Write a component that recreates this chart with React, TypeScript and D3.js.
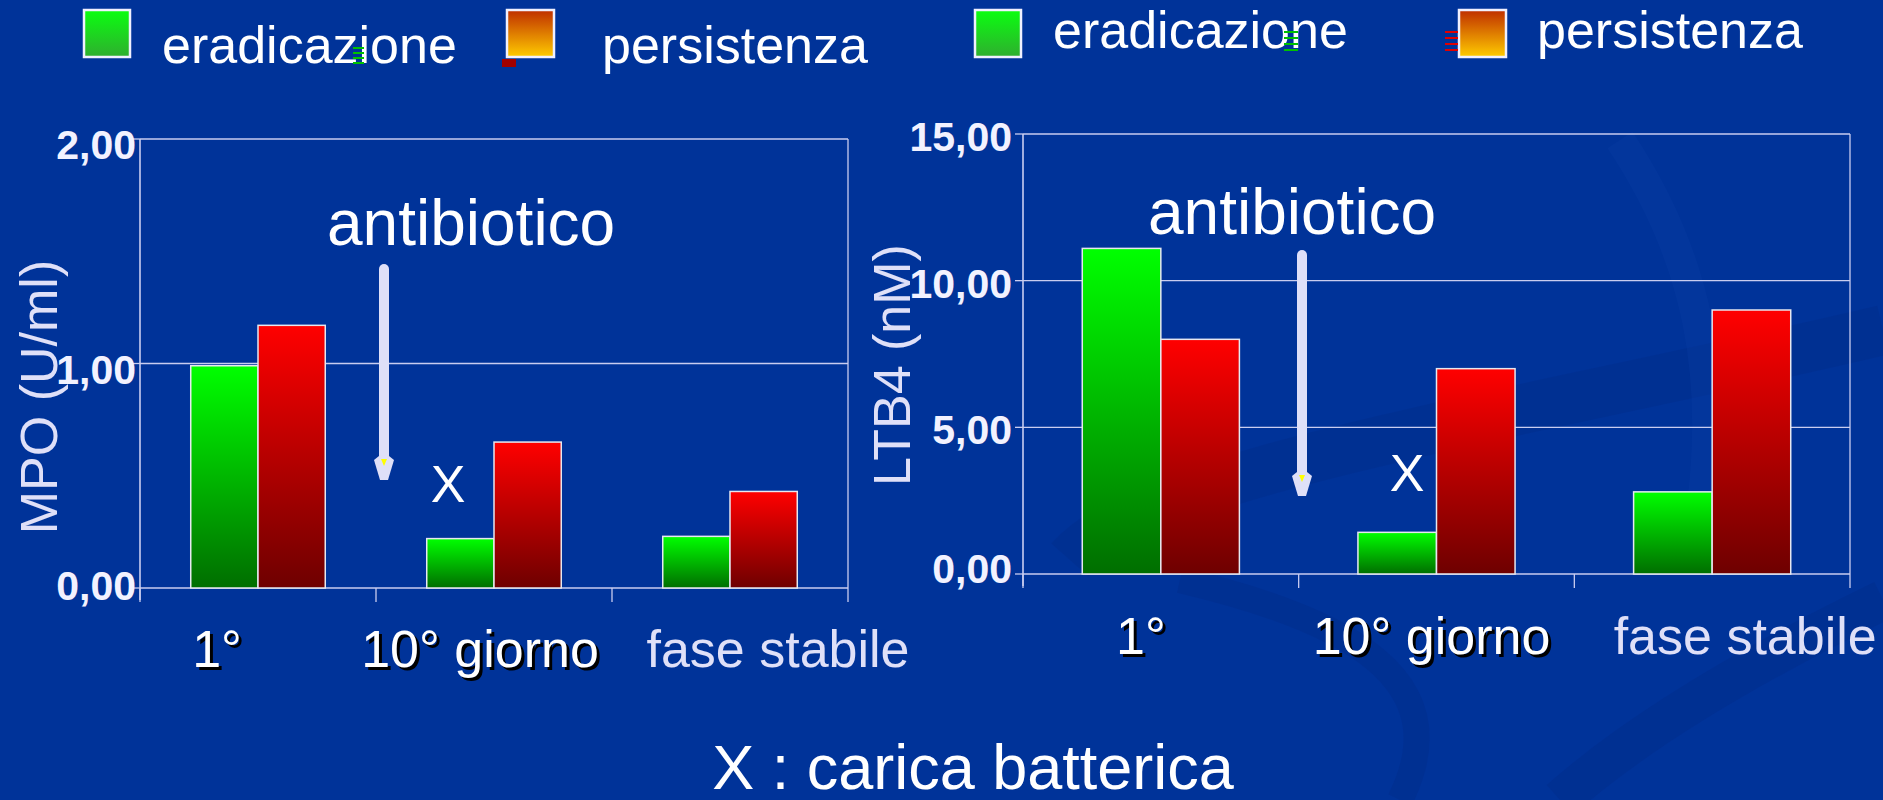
import React from "react";
import * as d3 from "d3";

// ---------- data ----------
const categories = ["1°", "10° giorno", "fase stabile"];
const seriesNames = ["eradicazione", "persistenza"];
const mpoEradicazione = [0.99, 0.22, 0.23];
const mpoPersistenza = [1.17, 0.65, 0.43];
const ltbEradicazione = [11.1, 1.42, 2.8];
const ltbPersistenza = [8.0, 7.0, 9.0];
const mpoTicks = [0, 1, 2];
const ltbTicks = [0, 5, 10, 15];
const mpoTitle = "MPO (U/ml)";
const ltbTitle = "LTB4 (nM)";
const annotation = "antibiotico";
const markerLabel = "X";
const footnote = "X : carica batterica";

const FONT = "'Liberation Sans', Arial, Helvetica, sans-serif";
const BG = "#003399";
const LINE = "#c9cdf0";
const LAV = "#dfe0f8";

const fmt = (v: number) => v.toFixed(2).replace(".", ",");

type ChartProps = {
  id: string;
  x0: number;
  x1: number;
  yTop: number;
  yBase: number;
  max: number;
  ticks: number[];
  erad: number[];
  pers: number[];
  title: string;
  titleX: number;
  titleY: number;
  tickLabelGap: number;
  tickLabelDy: number;
  catDx: number[];
  catBaseline: number;
  arrowX: number;
  arrowTop: number;
  arrowTip: number;
  annX: number;
  annY: number;
  markX: number;
  markY: number;
};

function Chart(p: ChartProps) {
  const x = d3.scaleBand<string>().domain(categories).range([p.x0, p.x1]).paddingInner(0).paddingOuter(0);
  const y = d3.scaleLinear().domain([0, p.max]).range([p.yBase, p.yTop]);
  const bw = x.bandwidth() * 0.285;
  const headTop = p.arrowTip - 24;
  const bands = [p.x0, ...categories.map((c) => (x(c) as number) + x.bandwidth())];
  return (
    <g>
      {p.ticks.map((t) => (
        <line key={"g" + t} x1={p.x0} x2={p.x1} y1={y(t)} y2={y(t)} stroke={LINE} strokeWidth={1.3} />
      ))}
      <line x1={p.x1} x2={p.x1} y1={p.yTop} y2={p.yBase} stroke={LINE} strokeWidth={1.3} />
      <line x1={p.x0} x2={p.x0} y1={p.yTop} y2={p.yBase + 12} stroke={LINE} strokeWidth={1.6} />
      {p.ticks.map((t) => (
        <line key={"yt" + t} x1={p.x0 - 8} x2={p.x0} y1={y(t)} y2={y(t)} stroke={LINE} strokeWidth={1.3} />
      ))}
      {bands.map((b, i) => (
        <line key={"xt" + i} x1={b} x2={b} y1={p.yBase} y2={p.yBase + 14} stroke={LINE} strokeWidth={1.3} />
      ))}
      {categories.map((c, i) => {
        const cx = (x(c) as number) + x.bandwidth() / 2;
        return (
          <g key={c}>
            <rect
              x={cx - bw}
              y={y(p.erad[i])}
              width={bw}
              height={p.yBase - y(p.erad[i])}
              fill={`url(#${p.id}-green)`}
              stroke="#e6e8f0"
              strokeWidth={1.5}
            />
            <rect
              x={cx}
              y={y(p.pers[i])}
              width={bw}
              height={p.yBase - y(p.pers[i])}
              fill={`url(#${p.id}-red)`}
              stroke="#e6e8f0"
              strokeWidth={1.5}
            />
          </g>
        );
      })}
      {p.ticks.map((t, i) => (
        <text
          key={"tl" + t}
          x={p.x0 - p.tickLabelGap}
          y={y(t) + (i === 0 ? p.tickLabelDy - 8 : p.tickLabelDy)}
          textAnchor="end"
          fontFamily={FONT}
          fontWeight="bold"
          fontSize={41}
          fill="#f2f2ff"
        >
          {fmt(t)}
        </text>
      ))}
      {categories.map((c, i) => {
        const cx = (x(c) as number) + x.bandwidth() / 2 + p.catDx[i];
        const shadow = i < 2;
        return (
          <g key={"cl" + c}>
            {shadow && (
              <text x={cx + 3} y={p.catBaseline + 3} textAnchor="middle" fontFamily={FONT} fontSize={52} fill="#000">
                {c}
              </text>
            )}
            <text
              x={cx}
              y={p.catBaseline}
              textAnchor="middle"
              fontFamily={FONT}
              fontSize={52}
              fill={shadow ? "#ffffff" : LAV}
            >
              {c}
            </text>
          </g>
        );
      })}
      <text
        transform={`translate(${p.titleX},${p.titleY}) rotate(-90)`}
        textAnchor="middle"
        fontFamily={FONT}
        fontSize={52}
        fill={LAV}
      >
        {p.title}
      </text>
      <text x={p.annX} y={p.annY} fontFamily={FONT} fontSize={64} fill="#ffffff">
        {annotation}
      </text>
      <line
        x1={p.arrowX}
        x2={p.arrowX}
        y1={p.arrowTop}
        y2={headTop + 2}
        stroke={LAV}
        strokeWidth={10}
        strokeLinecap="round"
      />
      <path
        d={`M${p.arrowX - 5},${headTop} L${p.arrowX - 10},${headTop + 4} L${p.arrowX - 4},${p.arrowTip} L${p.arrowX + 4},${p.arrowTip} L${p.arrowX + 10},${headTop + 4} L${p.arrowX + 5},${headTop} Z`}
        fill={LAV}
      />
      <path
        d={`M${p.arrowX - 3},${headTop + 3} L${p.arrowX + 3},${headTop + 3} L${p.arrowX},${headTop + 10} Z`}
        fill="#ffff00"
      />
      <text x={p.markX} y={p.markY} textAnchor="middle" fontFamily={FONT} fontSize={52} fill="#ffffff">
        {markerLabel}
      </text>
    </g>
  );
}

function Legend({ x, textY, gap, textOff }: { x: number; textY: number; gap: number; textOff: number }) {
  return (
    <g>
      <rect x={x} y={10} width={46} height={47} fill="url(#leg-green)" stroke="#f0f0ff" strokeWidth={2.5} />
      <text x={x + 78} y={textY} fontFamily={FONT} fontSize={52} fill="#ffffff">
        {seriesNames[0]}
      </text>
      <rect x={x + gap} y={10} width={47} height={47} fill="url(#leg-orange)" stroke="#f0f0ff" strokeWidth={2.5} />
      <text x={x + gap + textOff} y={textY} fontFamily={FONT} fontSize={52} fill="#ffffff">
        {seriesNames[1]}
      </text>
    </g>
  );
}

function Grads({ id }: { id: string }) {
  return (
    <>
      <linearGradient id={`${id}-green`} x1="0" y1="0" x2="0" y2="1">
        <stop offset="0" stopColor="#00ff00" />
        <stop offset="1" stopColor="#006e00" />
      </linearGradient>
      <linearGradient id={`${id}-red`} x1="0" y1="0" x2="0" y2="1">
        <stop offset="0" stopColor="#ff0000" />
        <stop offset="1" stopColor="#6e0000" />
      </linearGradient>
    </>
  );
}

export default function App() {
  return (
    <svg
      width={1883}
      height={800}
      style={{ position: "absolute", left: 0, top: 0, display: "block" }}
    >
      <defs>
        <Grads id="l" />
        <Grads id="r" />
        <linearGradient id="leg-green" x1="0" y1="0" x2="0" y2="1">
          <stop offset="0" stopColor="#0aff10" />
          <stop offset="1" stopColor="#2fae2f" />
        </linearGradient>
        <linearGradient id="leg-orange" x1="0" y1="0" x2="0" y2="1">
          <stop offset="0" stopColor="#bf2e00" />
          <stop offset="1" stopColor="#ffcc00" />
        </linearGradient>
      </defs>
      <rect x={0} y={0} width={1883} height={800} fill={BG} />
      {/* subtle background swooshes */}
      <path d="M1070,560 C1150,470 1500,420 1883,330" stroke="#002c86" strokeWidth={50} fill="none" opacity={0.3} />
      <path d="M1180,580 C1350,620 1460,680 1400,800" stroke="#002c86" strokeWidth={26} fill="none" opacity={0.35} />
      <path d="M1560,800 C1650,720 1780,650 1883,600" stroke="#002c86" strokeWidth={40} fill="none" opacity={0.35} />
      <path d="M1620,140 C1700,260 1720,380 1700,520" stroke="#0a3ea8" strokeWidth={30} fill="none" opacity={0.25} />

      <Legend x={84} textY={63} gap={423} textOff={95} />
      <Legend x={975} textY={48} gap={484} textOff={78} />
      <g>
        {[0, 1, 2, 3].map((k) => (
          <line key={"ga" + k} x1={353} x2={364} y1={48 + k * 5} y2={48 + k * 5} stroke="#00c000" strokeWidth={2} />
        ))}
        <rect x={502} y={59} width={14} height={8} fill="#a00000" />
        {[0, 1, 2, 3].map((k) => (
          <line key={"gb" + k} x1={1284} x2={1298} y1={32 + k * 6} y2={32 + k * 6} stroke="#00c000" strokeWidth={2} />
        ))}
        {[0, 1, 2, 3].map((k) => (
          <line key={"rb" + k} x1={1445} x2={1458} y1={32 + k * 6} y2={32 + k * 6} stroke="#e00000" strokeWidth={2} />
        ))}
      </g>

      <Chart
        id="l"
        x0={140}
        x1={848}
        yTop={139}
        yBase={588}
        max={2}
        ticks={mpoTicks}
        erad={mpoEradicazione}
        pers={mpoPersistenza}
        title={mpoTitle}
        titleX={57}
        titleY={397}
        tickLabelGap={4}
        tickLabelDy={20}
        catDx={[-41, -14, 48]}
        catBaseline={667}
        arrowX={384}
        arrowTop={269}
        arrowTip={480}
        annX={327}
        annY={245}
        markX={448}
        markY={502}
      />
      <Chart
        id="r"
        x0={1023}
        x1={1850}
        yTop={134}
        yBase={574}
        max={15}
        ticks={ltbTicks}
        erad={ltbEradicazione}
        pers={ltbPersistenza}
        title={ltbTitle}
        titleX={910}
        titleY={365}
        tickLabelGap={11}
        tickLabelDy={17}
        catDx={[-20, -5, 33]}
        catBaseline={654}
        arrowX={1302}
        arrowTop={255}
        arrowTip={496}
        annX={1148}
        annY={234}
        markX={1407}
        markY={491}
      />
      <text x={973} y={789} textAnchor="middle" fontFamily={FONT} fontSize={63} fill="#ffffff">
        {footnote}
      </text>
    </svg>
  );
}
